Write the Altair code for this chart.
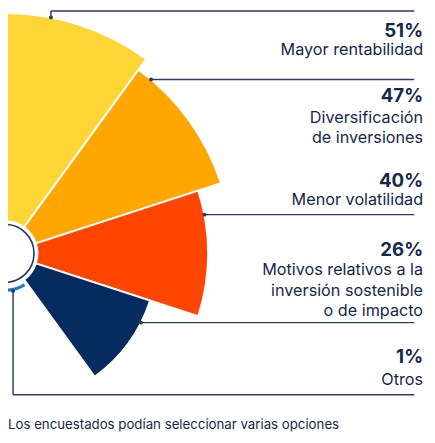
import math

import altair as alt
import pandas as pd

# data
categories = [
    "Mayor rentabilidad",
    "Diversificación\nde inversiones",
    "Menor volatilidad",
    "Motivos relativos a la\ninversión sostenible\no de impacto",
    "Otros",
]
shares = [51, 47, 40, 26, 1]
colors = ["#FDD535", "#FFA600", "#FF4500", "#062B5E", "#1D7DCB"]
note = "Los encuestados podían seleccionar varias opciones"

TEXT = "#14284B"
LINE = "#2A3D62"
FONT = "Inter"
OFF = 8  # page margin

# layout (plot px)
CX, CY = 5 - OFF, 254 - OFF
R_MIN, R_MAX, EXP = 30, 245, 0.8
X_END = 422 - OFF
lead_deg = [11, 40, 79, 117, 168]
elbow_y = [7 - OFF, None, None, None, 398 - OFF]
pct_y = [33, 100, 186, 257, 366]
label_y = [52, 121, 205, 276, 388]


def radius_px(v):
    return R_MIN + (R_MAX - R_MIN) * (v / max(shares)) ** EXP


wedges = pd.DataFrame({
    "categoria": categories,
    "valor": shares,
    "orden": list(range(len(shares))),
    "color": colors,
})

theta = alt.Theta("t0:Q", scale=alt.Scale(domain=[0, len(shares)], range=[0, math.pi]))
radius = alt.Radius("valor:Q", scale=alt.Scale(type="pow", exponent=EXP,
                                               domain=[0, max(shares)], range=[R_MIN, R_MAX]))
base = alt.Chart(wedges).transform_calculate(t0="datum.orden", t1="datum.orden + 1")

main = base.transform_filter("datum.orden < 4").mark_arc(stroke="white", strokeWidth=2).encode(
    x=alt.value(CX), y=alt.value(CY),
    theta=theta, theta2="t1:Q",
    radius=radius, radius2=alt.value(33),
    color=alt.Color("color:N", scale=None),
)
otros = base.transform_filter("datum.orden == 4").mark_arc(padAngle=0.1).encode(
    x=alt.value(CX), y=alt.value(CY),
    theta=theta, theta2="t1:Q",
    radius=radius, radius2=alt.value(36),
    color=alt.Color("color:N", scale=None),
)
hole = alt.Chart(pd.DataFrame({"k": [0]})).mark_arc(
    fill="white", stroke="#1C3664", strokeWidth=1.6
).encode(
    x=alt.value(CX), y=alt.value(CY),
    theta=alt.value(0), theta2=alt.value(2 * math.pi),
    radius=alt.value(29.5),
)

# leader lines
segs, dots = [], []
for i, v in enumerate(shares):
    a = math.radians(lead_deg[i])
    r = radius_px(v)
    dx, dy = CX + r * math.sin(a), CY - r * math.cos(a)
    ey = dy if elbow_y[i] is None else elbow_y[i]
    dots.append({"x": dx, "y": dy})
    segs.append({"x": dx, "y": dy, "x2": dx, "y2": ey})
    segs.append({"x": dx, "y": ey, "x2": X_END, "y2": ey})

px = alt.X("x:Q", scale=None, axis=None)
py = alt.Y("y:Q", scale=None, axis=None)
rules = alt.Chart(pd.DataFrame(segs)).mark_rule(color=LINE, strokeWidth=1.5).encode(
    x=px, y=py, x2="x2:Q", y2="y2:Q"
)
points = alt.Chart(pd.DataFrame(dots)).mark_circle(color=LINE, size=16, opacity=1).encode(x=px, y=py)

labels = pd.DataFrame({
    "pct": [f"{v}%" for v in shares],
    "cat": categories,
    "x": [X_END] * len(shares),
    "py": [y - OFF for y in pct_y],
    "ly": [y - OFF for y in label_y],
})
pct_text = alt.Chart(labels).mark_text(
    align="right", baseline="alphabetic", font=FONT, fontSize=19, fontWeight="bold",
    color=TEXT, dx=9
).encode(x=px, y=alt.Y("py:Q", scale=None, axis=None), text="pct:N")
cat_text = alt.Chart(labels).mark_text(
    align="right", baseline="alphabetic", font=FONT, fontSize=16.5, color=TEXT,
    lineBreak="\n", lineHeight=21, dx=9
).encode(x=px, y=alt.Y("ly:Q", scale=None, axis=None), text="cat:N")

footer = alt.Chart(pd.DataFrame({"t": [note]})).mark_text(
    align="left", baseline="alphabetic", font=FONT, fontSize=13.5, color=TEXT
).encode(x=alt.value(0), y=alt.value(433 - OFF), text="t:N")

chart = alt.layer(main, otros, hole, rules, points, pct_text, cat_text, footer).properties(
    width=427, height=427, autosize="none", padding=0
).configure_view(stroke=None)

chart.save("out.html", embed_options={"renderer": "svg", "actions": False})
